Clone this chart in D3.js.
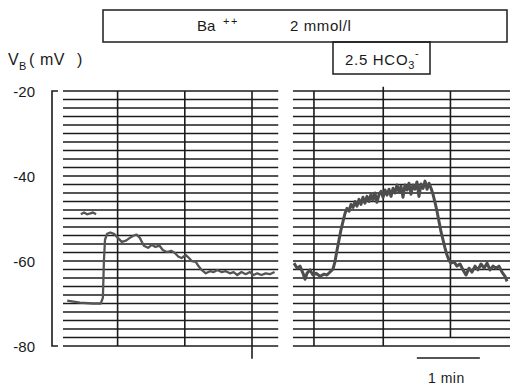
<!DOCTYPE html>
<html><head><meta charset="utf-8">
<script src="https://cdn.jsdelivr.net/npm/d3@7"></script>
<style>body{margin:0;background:#fff}svg{display:block}text{font-family:"Liberation Sans",Arial,sans-serif;fill:#1a1a1a}</style>
</head><body><svg id="c" width="510" height="389"></svg>
<script>
// ---- data ----
const yTicks = [-20, -40, -60, -80];
const yTickLabels = ["-20", "-40", "-60", "-80"];
const gridLevels = [-20,-22,-24,-26,-28,-30,-32,-34,-36,-38,-40,-42,-44,-46,-48,-50,-52,-54,-56,-58,-60,-62,-64,-66,-68,-70,-72,-74,-76,-78,-80];
const panels = [[0, 205], [219, 426]];           // seconds
const chartLines = [52, 116, 180, 239, 305, 369];  // seconds
const scaleBar = [337, 397];                       // 1 min
const leftTime = [4,16,28.5,36,38,39,40,42,45,48.5,52,56,60,64,67.5,70,73,77,81,84.5,88,92,95,99,103,106.5,110,113,117,120,122.5,126.5,129,132,136,140,143.5,147,151,155,159,162.5,166,170,174,178,181.5,185,189,193,197,201.5];
const leftVB = [-69.3,-69.8,-70,-70,-68.6,-59.8,-55,-53.6,-53.3,-53.6,-54.5,-55.5,-55.2,-54.5,-54,-53.8,-54.5,-56.4,-56.9,-56.2,-56.7,-56.4,-57.4,-57.9,-57.6,-58.1,-59,-59.3,-58.6,-59.3,-60,-60.2,-61.2,-62.1,-62.9,-62.4,-62.6,-62.1,-62.6,-62.4,-62.9,-62.6,-63.3,-62.6,-63.1,-62.6,-63.3,-62.9,-63.3,-62.9,-63.1,-62.6];
const blipTime = [17,20,23,26,28.5,31.5];
const blipVB = [-49,-48.6,-49,-48.8,-48.6,-49];
const rightTime = [220,223,225.7,228.6,230.5,232.4,235.2,238.1,241,244.8,248.6,251.4,254.3,257.1,259,261,262.9,264.8,266.7,268.6,270.5,272.4,274.3,276.2,278.1,280,281.9,283.8,285.7,287.6,289.5,291.4,293.3,295.2,297.1,299,301,302.9,304.8,306.7,308.6,310.5,312.4,314.3,316.2,318.1,320,321.9,323.8,325.7,327.6,329.5,331.4,333.3,335.2,337.1,339,341,342.9,344.8,346.7,348.6,350.5,352.4,354.3,356.2,358.1,360,361.9,363.8,365.7,367.6,369.5,372.4,375.2,378.1,381,383.8,386.7,389.5,392.4,395.2,398.1,401,403.8,406.7,409.5,412.4,415.2,418.1,421,422.9];
const rightVB = [-60.5,-61.7,-61.2,-62.9,-64.3,-62.9,-62.1,-63.3,-62.9,-63.6,-63.1,-63.3,-62.6,-61.9,-60.2,-57.4,-55,-52.6,-50.7,-48.8,-47.6,-48.3,-46.7,-47.4,-46,-47.1,-45.5,-46.7,-45,-46.4,-44.8,-46,-44.3,-45.7,-44,-46.2,-44.3,-43.6,-45,-43.3,-44.5,-43.1,-44.8,-42.9,-44,-42.1,-43.8,-42.4,-45,-42.1,-43.3,-41.7,-44.3,-42.1,-43.1,-41.4,-44.8,-41.9,-42.9,-41.2,-43.1,-41.7,-42.9,-44.3,-46.2,-48.3,-50.7,-53.1,-55,-56.9,-58.6,-59.8,-60.5,-60.2,-61.2,-60.7,-62.1,-63.3,-61.7,-62.6,-61.2,-62.1,-60.7,-61.7,-60.5,-62.1,-61.2,-61.7,-61.2,-62.6,-63.6,-64.8];

// ---- drawing ----
const svg = d3.select("#c");
const x = d3.scaleLinear().domain([0, 426]).range([63, 510.3]);
const y = d3.scaleLinear().domain([-80, -20]).range([346, 91]);
const ink = "#1c1c1c";

// horizontal chart grid
panels.forEach(p => {
  svg.append("g").selectAll("line").data(gridLevels).join("line")
    .attr("x1", x(p[0])).attr("x2", x(p[1]))
    .attr("y1", d => y(d)).attr("y2", d => y(d))
    .attr("stroke", ink).attr("stroke-width", 1.5);
});
// vertical chart lines
svg.append("g").selectAll("line").data(chartLines).join("line")
  .attr("x1", d => x(d)).attr("x2", d => x(d))
  .attr("y1", (d, i) => i === 4 ? y(-19) : y(-20))
  .attr("y2", (d, i) => i === 2 ? y(-83) : (i === 5 ? y(-78) : y(-80)))
  .attr("stroke", ink).attr("stroke-width", 1.6);

// bracket axis
const bx = 52;
svg.append("path")
  .attr("d", `M${bx + 6},${y(-20)}H${bx}V${y(-80)}H${bx + 6}`)
  .attr("fill", "none").attr("stroke", ink).attr("stroke-width", 1.6);
svg.append("g").selectAll("text").data(yTicks).join("text")
  .attr("x", 35).attr("y", d => y(d) + 6).attr("text-anchor", "end")
  .attr("font-size", 15).text((d, i) => yTickLabels[i]);

// axis title
svg.append("text").attr("x", 8).attr("y", 65).attr("font-size", 16).text("V");
svg.append("text").attr("x", 19).attr("y", 70).attr("font-size", 11).text("B");
svg.append("text").attr("x", 29).attr("y", 65).attr("font-size", 16).text("(");
svg.append("text").attr("x", 40).attr("y", 65).attr("font-size", 16).attr("letter-spacing", 0.5).text("mV");
svg.append("text").attr("x", 77).attr("y", 65).attr("font-size", 16).text(")");

// traces
const line = d3.line().x(d => x(d[0])).y(d => y(d[1]));
svg.append("path").datum(leftTime.map((v, i) => [v, leftVB[i]]))
  .attr("d", line).attr("fill", "none").attr("stroke", "#555").attr("stroke-width", 2.3).attr("stroke-linejoin", "round");
svg.append("path").datum(blipTime.map((v, i) => [v, blipVB[i]]))
  .attr("d", line).attr("fill", "none").attr("stroke", "#555").attr("stroke-width", 2.3);
svg.append("path").datum(rightTime.map((v, i) => [v, rightVB[i]]))
  .attr("d", line).attr("fill", "none").attr("stroke", "#4d4d4d").attr("stroke-width", 3).attr("stroke-linejoin", "round");

// condition boxes
svg.append("rect").attr("x", 103).attr("y", 10).attr("width", 404).attr("height", 32)
  .attr("fill", "none").attr("stroke", ink).attr("stroke-width", 1.5);
svg.append("text").attr("x", 197).attr("y", 31).attr("font-size", 15).text("Ba");
svg.append("text").attr("x", 223).attr("y", 25).attr("font-size", 11).attr("letter-spacing", 1.5).text("++");
svg.append("text").attr("x", 290).attr("y", 31).attr("font-size", 15).attr("letter-spacing", 0.6).text("2 mmol/l");
svg.append("rect").attr("x", 333).attr("y", 42).attr("width", 97).attr("height", 32)
  .attr("fill", "none").attr("stroke", ink).attr("stroke-width", 1.5);
const h = svg.append("text").attr("x", 345).attr("y", 65).attr("font-size", 15).attr("letter-spacing", 0.7);
h.append("tspan").text("2.5 HCO");
h.append("tspan").attr("dy", 4).attr("font-size", 11).text("3");
h.append("tspan").attr("dy", -12).attr("font-size", 11).text("-");

// time scale bar
svg.append("line").attr("x1", x(scaleBar[0])).attr("x2", x(scaleBar[1]))
  .attr("y1", 358).attr("y2", 358).attr("stroke", ink).attr("stroke-width", 1.5);
svg.append("text").attr("x", (x(scaleBar[0]) + x(scaleBar[1])) / 2 - 2).attr("y", 383)
  .attr("text-anchor", "middle").attr("font-size", 14).attr("letter-spacing", 0.5).text("1 min");
</script></body></html>
